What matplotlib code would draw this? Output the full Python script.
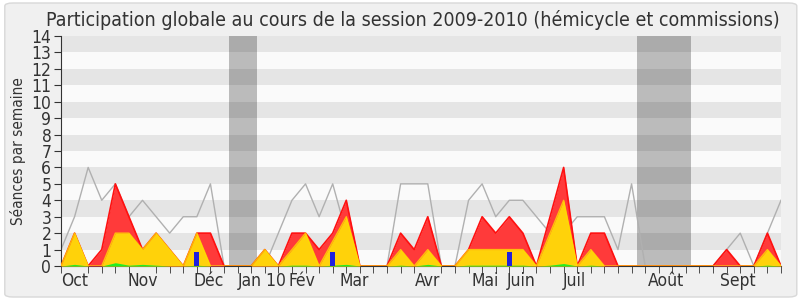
#!/usr/bin/env python3
# Participation globale - session 2009-2010
import matplotlib
matplotlib.use("Agg")
from matplotlib import pyplot as plt
from matplotlib.patches import FancyBboxPatch
import numpy as np

# weeks of the session (0 = first week of October)
weeks = np.arange(54)

# grey line: reference (median) activity
median = [1, 3, 6, 4, 5, 3, 4, 3, 2, 3, 3, 5, 0, 0, 0, 0, 2, 4, 5, 3,
          5, 2, 0, 0, 0, 5, 5, 5, 0, 0, 4, 5, 3, 4, 4, 3, 2, 2, 3, 3,
          3, 1, 5, 0, 0, 0, 0, 0, 0, 1, 2, 0, 2, 4]
# red: presences
presences = [0, 2, 0, 1, 5, 3, 1, 2, 1, 0, 2, 2, 0, 0, 0, 1, 0, 2, 2, 1,
             2, 4, 0, 0, 0, 2, 1, 3, 0, 0, 1, 3, 2, 3, 2, 0, 3, 6, 0, 2,
             2, 0, 0, 0, 0, 0, 0, 0, 0, 1, 0, 0, 2, 0]
# yellow: participations
participations = [0, 2, 0, 0, 2, 2, 1, 2, 1, 0, 2, 0, 0, 0, 0, 1, 0, 1, 2, 0,
                  1.5, 3, 0, 0, 0, 1, 0, 1, 0, 0, 1, 1, 1, 1, 1, 0, 2, 4, 0, 1,
                  0, 0, 0, 0, 0, 0, 0, 0, 0, 0, 0, 0, 1, 0]
# green: small contributions
green = [0, 0.1, 0, 0, 0.2, 0.05, 0.1, 0.05, 0, 0, 0.05, 0, 0, 0, 0, 0, 0, 0.05, 0.05, 0,
         0.05, 0.1, 0, 0, 0, 0.05, 0, 0.1, 0, 0, 0.05, 0.05, 0.05, 0.05, 0.05, 0, 0.05, 0.15, 0, 0.05,
         0, 0, 0, 0, 0, 0, 0, 0, 0, 0, 0, 0, 0.05, 0]
# blue bars
bar_weeks = [10, 20, 33]
bar_values = [0.85, 0.85, 0.85]

# vacations (shaded)
vacations = [(12.4, 14.4), (42.4, 46.4)]

month_labels = ["Oct", "Nov", "Déc", "Jan 10", "Fév", "Mar", "Avr", "Mai", "Juin", "Juil", "Août", "Sept"]
month_pos = [1.0, 6.0, 10.9, 14.85, 17.7, 21.6, 27.0, 31.2, 33.9, 37.8, 44.5, 49.8]

fig = plt.figure(figsize=(8, 3), dpi=100)
fig.patch.set_facecolor("white")
fig.patches.append(FancyBboxPatch((0.006, 0.01), 0.99, 0.98, boxstyle="round,pad=0,rounding_size=0.01",
                                  transform=fig.transFigure, facecolor="#f0f0f0",
                                  edgecolor="#d8d8d8", linewidth=1, zorder=-10))

ax = fig.add_axes([61 / 800, 34 / 300, 720 / 800, 230 / 300])
ax.set_facecolor("#fafafa")

# horizontal bands
for k in range(1, 14, 2):
    ax.axhspan(k, k + 1, color="#e5e5e5", zorder=0, lw=0)

for a, b in vacations:
    ax.axvspan(a, b, color="black", alpha=0.25, zorder=1, lw=0)

ax.plot(weeks, median, color="#b0b0b0", lw=1, zorder=2)
ax.fill_between(weeks, presences, color="#ff3a3a", lw=0, zorder=3)
ax.plot(weeks, presences, color="#ff1010", lw=1.2, zorder=3)
ax.fill_between(weeks, participations, color="#ffd20a", lw=0, zorder=4)
ax.plot(weeks, participations, color="#ffdd00", lw=1.0, alpha=0.8, zorder=4)
ax.fill_between(weeks, green, color="#22ee22", lw=0, zorder=5)
ax.bar(bar_weeks, bar_values, width=0.37, color="#2020dd", zorder=6)

ax.set_xlim(0, 53)
ax.set_ylim(0, 14)
ax.set_yticks(range(15))
ax.tick_params(axis="y", labelsize=12.5, length=5, color="#333333", pad=2)
ax.set_xticks(weeks, minor=True)
ax.set_xticks(month_pos)
ax.set_xticklabels(month_labels)
ax.tick_params(axis="x", which="major", length=0, labelsize=12.5, pad=4)
ax.tick_params(axis="x", which="minor", length=5, color="#333333")
for lab in ax.get_xticklabels() + ax.get_yticklabels():
    lab.set_fontstretch("condensed")
    lab.set_color("#333333")
for s in ["top", "right"]:
    ax.spines[s].set_visible(False)
ax.spines["left"].set_color("#333333")
ax.spines["bottom"].set_color("#333333")

ax.set_ylabel("Séances par semaine", fontsize=11, labelpad=4, fontstretch="condensed", color="#333333")
fig.text(0.516, 0.935, "Participation globale au cours de la session 2009-2010 (hémicycle et commissions)",
         ha="center", va="center", fontsize=14, fontstretch="condensed", color="#333333")

plt.savefig("out.png", dpi=100)
